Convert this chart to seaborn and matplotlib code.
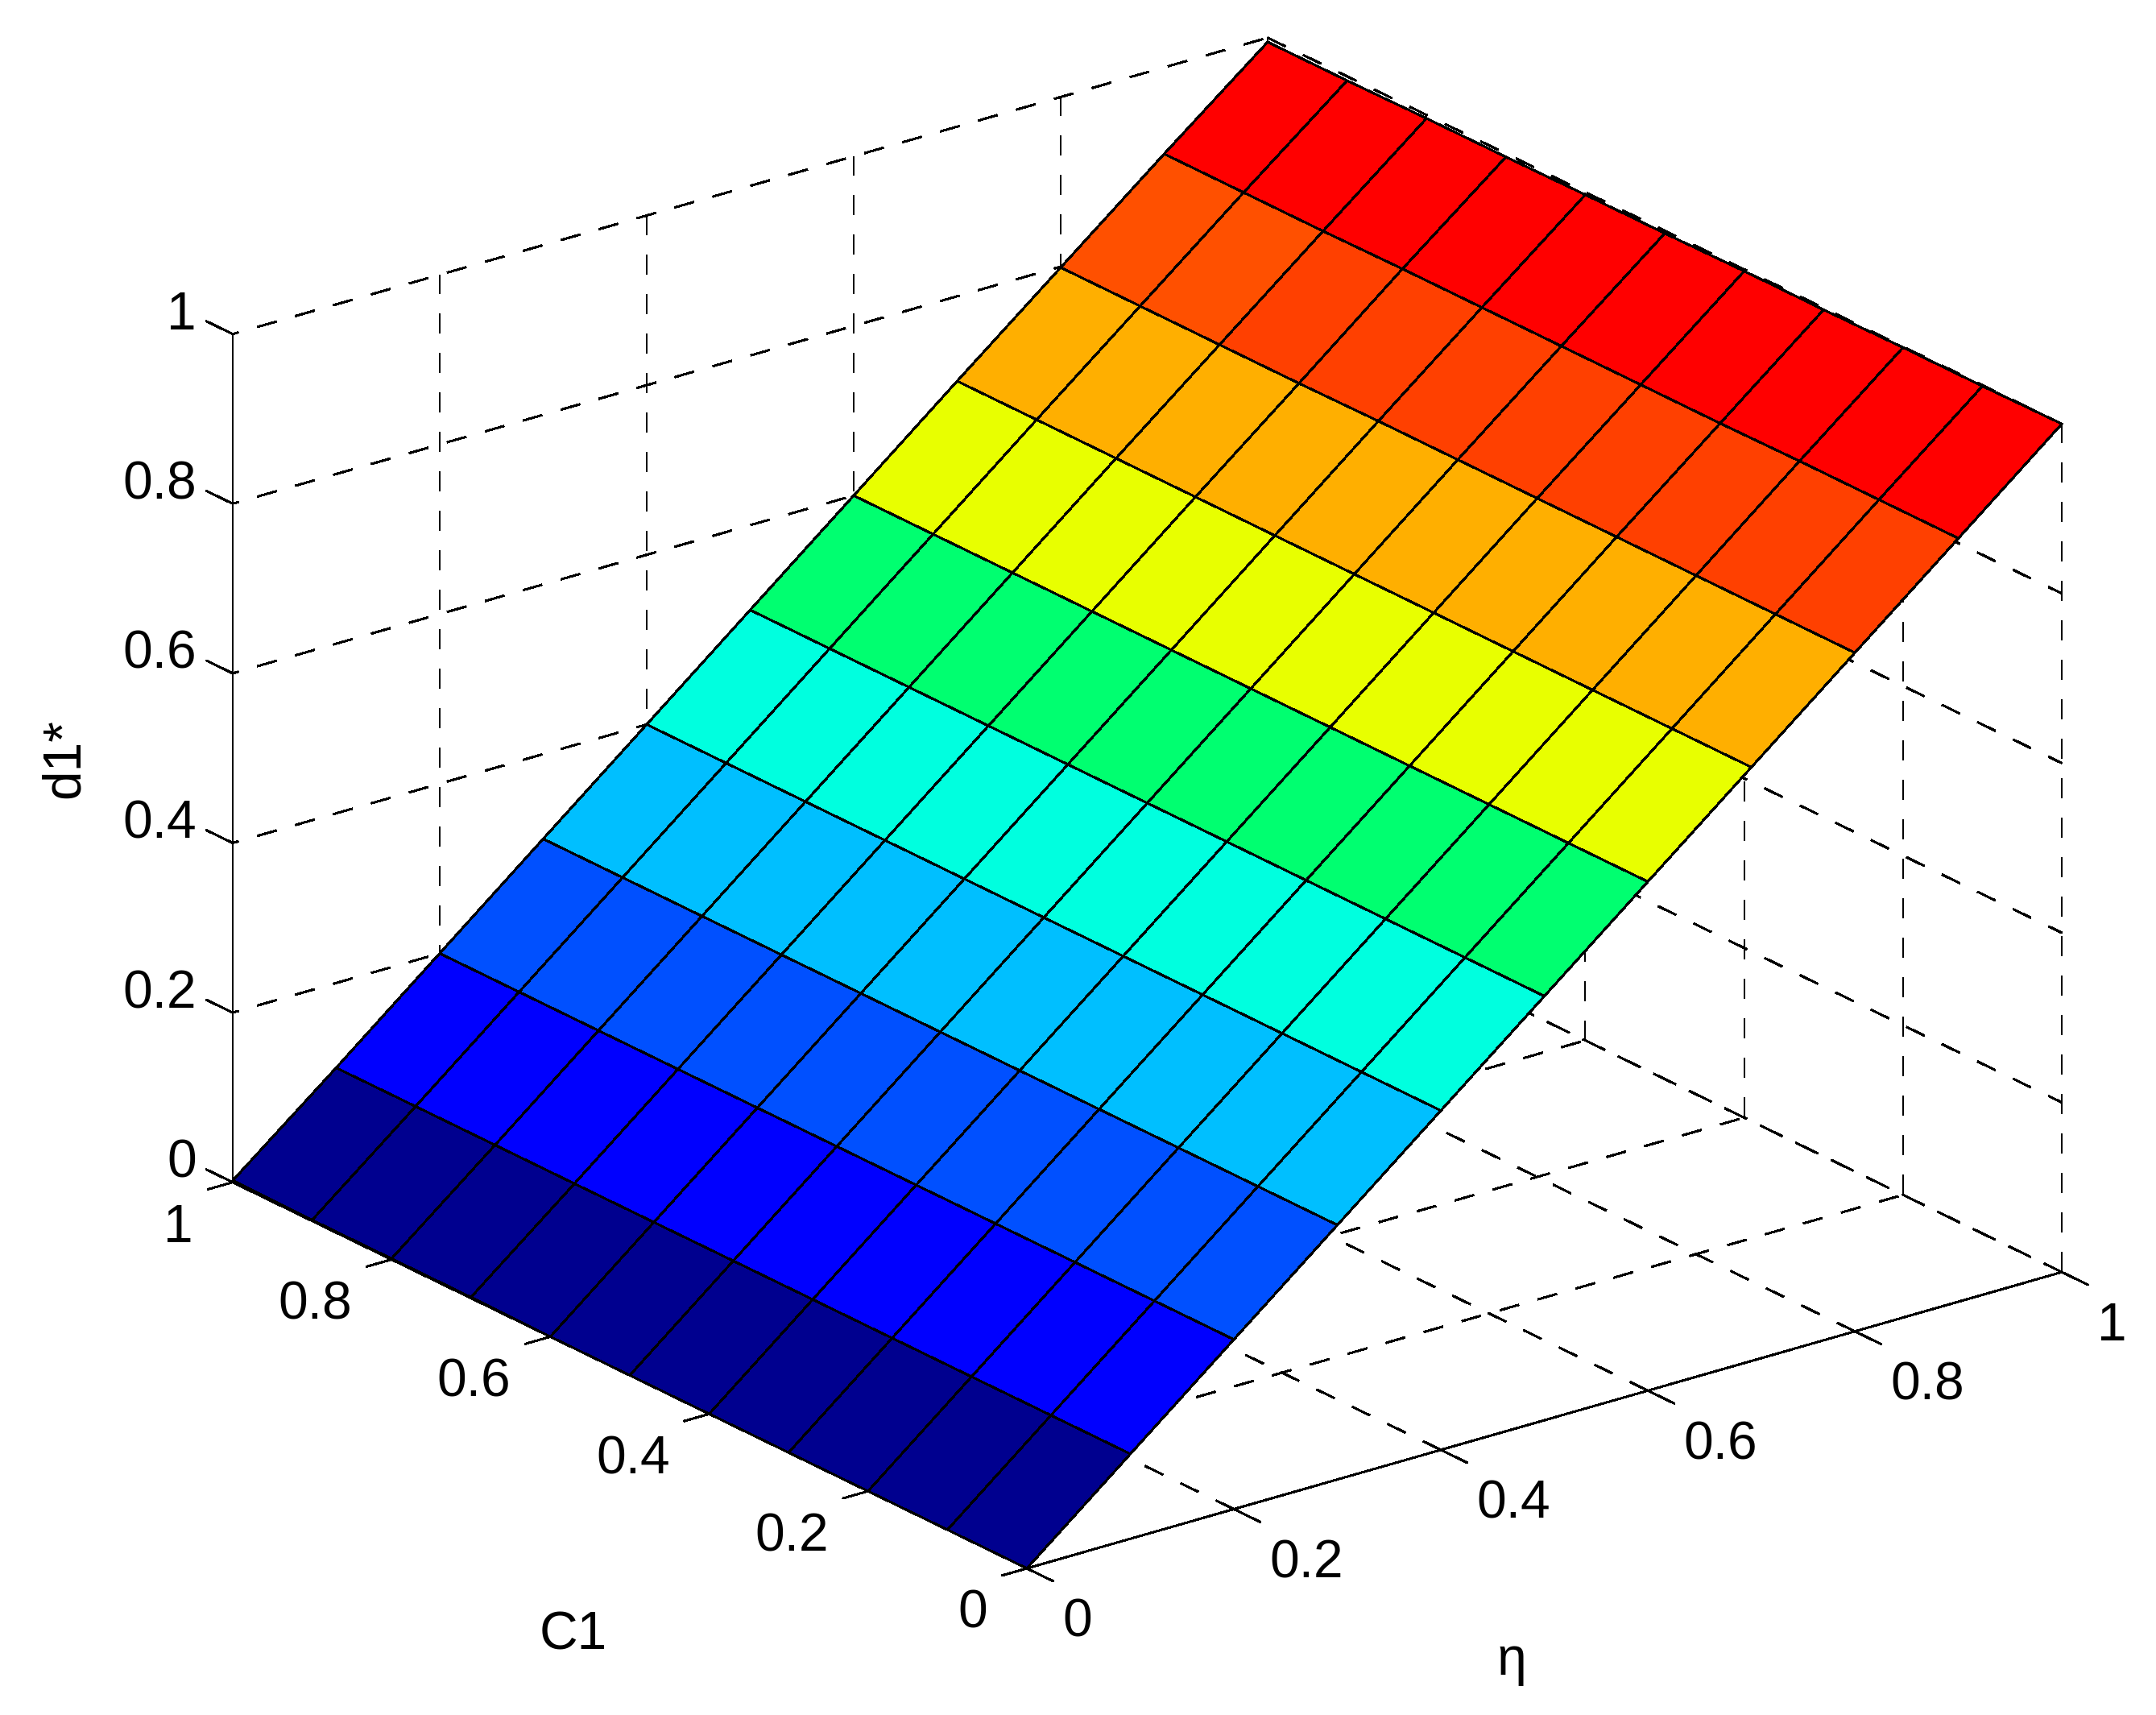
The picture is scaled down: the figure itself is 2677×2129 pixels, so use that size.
"""Surface of d1* over C1 and eta, drawn like a MATLAB surf plot."""

import matplotlib
import numpy as np
import seaborn as sns

matplotlib.use("Agg")
import matplotlib.pyplot as plt  # noqa: E402
from mpl_toolkits.mplot3d import proj3d  # noqa: E402

ETA_VALUES = [0, 0.1, 0.2, 0.3, 0.4, 0.5, 0.6, 0.7, 0.8, 0.9, 1]
C1_VALUES = [0, 0.1, 0.2, 0.3, 0.4, 0.5, 0.6, 0.7, 0.8, 0.9, 1]

# d1* along eta, one list per C1 value
D1_C1_00 = [0.000, 0.100, 0.200, 0.300, 0.400, 0.500, 0.600, 0.700, 0.800, 0.900, 1.000]
D1_C1_01 = [0.000, 0.100, 0.200, 0.300, 0.400, 0.500, 0.600, 0.700, 0.800, 0.900, 0.999]
D1_C1_02 = [0.000, 0.100, 0.200, 0.300, 0.400, 0.500, 0.600, 0.700, 0.800, 0.900, 0.999]
D1_C1_03 = [0.000, 0.100, 0.200, 0.300, 0.400, 0.500, 0.600, 0.700, 0.800, 0.899, 0.998]
D1_C1_04 = [0.000, 0.100, 0.200, 0.300, 0.400, 0.500, 0.600, 0.700, 0.800, 0.899, 0.998]
D1_C1_05 = [0.000, 0.100, 0.200, 0.300, 0.400, 0.500, 0.600, 0.700, 0.800, 0.899, 0.997]
D1_C1_06 = [0.000, 0.100, 0.200, 0.300, 0.400, 0.500, 0.600, 0.700, 0.800, 0.899, 0.997]
D1_C1_07 = [0.001, 0.100, 0.200, 0.300, 0.400, 0.500, 0.600, 0.700, 0.799, 0.899, 0.996]
D1_C1_08 = [0.001, 0.100, 0.200, 0.300, 0.400, 0.500, 0.600, 0.700, 0.799, 0.898, 0.996]
D1_C1_09 = [0.001, 0.100, 0.200, 0.300, 0.400, 0.500, 0.600, 0.700, 0.799, 0.898, 0.995]
D1_C1_10 = [0.002, 0.100, 0.200, 0.300, 0.400, 0.500, 0.600, 0.700, 0.799, 0.898, 0.995]

ETA_TICKS = [0, 0.2, 0.4, 0.6, 0.8, 1]
C1_TICKS = [0, 0.2, 0.4, 0.6, 0.8, 1]
D1_TICKS = [0, 0.2, 0.4, 0.6, 0.8, 1]
TICK_LABELS = ["0", "0.2", "0.4", "0.6", "0.8", "1"]

# one flat colour per eta band, low to high
BAND_COLOURS = [
    "#00008F", "#0000FF", "#0050FF", "#00BFFF", "#00FFDF",
    "#00FF70", "#E8FF00", "#FFAF00", "#FF4000", "#FF0000",
]
# two cells of the ninth band fall one colormap step lower
LIGHT_BAND = 8
LIGHT_CELLS = [8, 9]
LIGHT_COLOUR = "#FF5000"

WIDTH_PX, HEIGHT_PX = 2677, 2129
DPI = 300
PX = 72 / DPI  # one pixel in points
LINE_PX = 2.0
DASH_ON_PX, DASH_OFF_PX = 24.5, 24.0
DASH_PHASE_PX = 17.0  # eta-direction lines start with a short dash
FONT_SIZE = 15.8

AZIM, ELEV = -127.5, 21.9
BOX_ASPECT = (1620, 1620, 1135)
D1_AXIS_PX = 1053  # on-screen height of the d1* axis
ORIGIN_PX = (1275, HEIGHT_PX - 1947)  # where eta = C1 = d1 = 0 lands
AXES_SIDE_PX = 3400


def project(ax, x, y, z):
    """3D point to the 2D data coordinates of the axes."""
    px, py, _ = proj3d.proj_transform(x, y, z, ax.get_proj())
    return float(px), float(py)


def to_pixels(ax, x, y, z):
    return ax.transData.transform(project(ax, x, y, z))


def fit_axes(ax):
    """Scale and shift the 3D box so that it lands where the original has it."""
    ax.set_box_aspect(BOX_ASPECT)
    height = (to_pixels(ax, 0, 0, 1) - to_pixels(ax, 0, 0, 0))[1]
    ax.set_box_aspect(BOX_ASPECT, zoom=D1_AXIS_PX / height)
    shift = np.array(ORIGIN_PX) - to_pixels(ax, 0, 0, 0)
    pos = ax.get_position()
    ax.set_position([
        pos.x0 + shift[0] / WIDTH_PX,
        pos.y0 + shift[1] / HEIGHT_PX,
        pos.width,
        pos.height,
    ])


def draw_grid(ax):
    """Dashed grid on the floor and on the two back walls."""
    pattern = (DASH_ON_PX / LINE_PX, DASH_OFF_PX / LINE_PX)
    plain = (0, pattern)
    phased = (DASH_PHASE_PX / LINE_PX, pattern)
    style = {"color": "black", "lw": LINE_PX * PX, "zorder": 1,
             "antialiased": False, "dash_capstyle": "butt"}
    for eta in ETA_TICKS:
        ax.plot([eta, eta], [0, 1], [0, 0], ls=plain, **style)
        ax.plot([eta, eta], [1, 1], [0, 1], ls=plain, **style)
    for c1 in C1_TICKS:
        ax.plot([0, 1], [c1, c1], [0, 0], ls=phased, **style)
        ax.plot([1, 1], [c1, c1], [0, 1], ls=plain, **style)
    for d1 in D1_TICKS:
        ax.plot([0, 1], [1, 1], [d1, d1], ls=phased, **style)
        ax.plot([1, 1], [1, 0], [d1, d1], ls=plain, **style)


def draw_axes_lines(ax):
    """Solid axis lines and their ticks."""
    style = {"color": "black", "lw": LINE_PX * PX, "zorder": 2,
             "antialiased": False}
    ax.plot([0, 0], [1, 1], [0, 1], **style)
    ax.plot([0, 0], [0, 1], [0, 0], **style)
    ax.plot([0, 1], [0, 0], [0, 0], **style)
    for d1 in D1_TICKS:
        ax.plot([0, 0], [1, 1.033], [d1, d1], **style)
    for c1 in C1_TICKS:
        ax.plot([0, -0.024], [c1, c1], [0, 0], **style)
    for eta in ETA_TICKS:
        ax.plot([eta, eta], [0, -0.033], [0, 0], **style)


def add_labels(ax):
    style = {"xycoords": "data", "textcoords": "offset pixels",
             "annotation_clip": False, "fontsize": FONT_SIZE, "color": "black"}
    for d1, label in zip(D1_TICKS, TICK_LABELS):
        ax.annotate(label, project(ax, 0, 1, d1), xytext=(-45, 23),
                    ha="right", va="center", **style)
    for c1, label in zip(C1_TICKS, TICK_LABELS):
        ax.annotate(label, project(ax, 0, c1, 0), xytext=(-49, -57),
                    ha="right", va="center", **style)
    for eta, label in zip(ETA_TICKS, TICK_LABELS):
        ax.annotate(label, project(ax, eta, 0, 0), xytext=(44, -68),
                    ha="left", va="center", **style)

    fig = ax.figure
    fig.text(712 / WIDTH_PX, 1 - 2030 / HEIGHT_PX, "C1", fontsize=FONT_SIZE,
             ha="center", va="center", color="black")
    fig.text(1877 / WIDTH_PX, 1 - 2062 / HEIGHT_PX, "η", fontsize=FONT_SIZE,
             ha="center", va="center", color="black")
    fig.text(81 / WIDTH_PX, 1 - 942 / HEIGHT_PX, "d1*", fontsize=FONT_SIZE,
             rotation=90, ha="center", va="center", color="black")


def main():
    sns.set_theme(style="white", rc={"text.color": "black"})
    plt.rcParams["font.family"] = ["Liberation Sans", "DejaVu Sans"]

    eta_grid, c1_grid = np.meshgrid(ETA_VALUES, C1_VALUES)
    d1_grid = np.array([
        D1_C1_00, D1_C1_01, D1_C1_02, D1_C1_03, D1_C1_04, D1_C1_05,
        D1_C1_06, D1_C1_07, D1_C1_08, D1_C1_09, D1_C1_10,
    ])

    # rows follow C1, columns follow eta
    palette = np.array(sns.color_palette(BAND_COLOURS))
    cell_colours = np.tile(palette, (len(C1_VALUES) - 1, 1, 1))
    light = sns.color_palette([LIGHT_COLOUR])[0]
    for row in LIGHT_CELLS:
        cell_colours[row, LIGHT_BAND] = light

    fig = plt.figure(figsize=(WIDTH_PX / DPI, HEIGHT_PX / DPI), dpi=DPI)
    side_x, side_y = AXES_SIDE_PX / WIDTH_PX, AXES_SIDE_PX / HEIGHT_PX
    ax = fig.add_axes(
        [0.5 - side_x / 2, 0.5 - side_y / 2, side_x, side_y],
        projection="3d", proj_type="ortho", computed_zorder=False,
    )
    ax.view_init(elev=ELEV, azim=AZIM)

    draw_grid(ax)
    draw_axes_lines(ax)
    surface = ax.plot_surface(
        eta_grid, c1_grid, d1_grid,
        rstride=1, cstride=1, facecolors=cell_colours, shade=False,
        antialiased=False, zorder=3,
    )
    surface.set_edgecolor("black")
    surface.set_linewidth(LINE_PX * PX)

    ax.set_xlim(0, 1, view_margin=0)
    ax.set_ylim(0, 1, view_margin=0)
    ax.set_zlim(0, 1, view_margin=0)
    ax.set_axis_off()
    fit_axes(ax)
    add_labels(ax)

    fig.savefig("out.png", dpi=DPI, facecolor="white")


if __name__ == "__main__":
    main()
